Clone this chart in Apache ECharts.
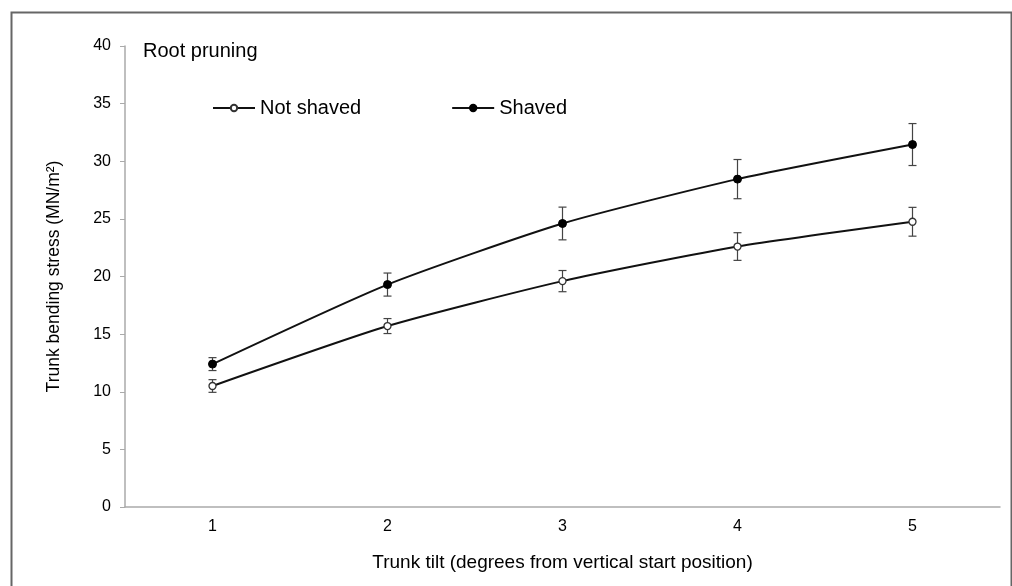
<!DOCTYPE html>
<html>
<head>
<meta charset="utf-8">
<script src="https://cdn.jsdelivr.net/npm/echarts@6/dist/echarts.min.js"></script>
<style>
html,body{margin:0;padding:0;background:#fff;}
#chart{width:1012px;height:586px;}
</style>
</head>
<body>
<div id="chart"></div>
<script>
const categories = ['1', '2', '3', '4', '5'];
const notShavedMean = [10.5, 15.7, 19.6, 22.6, 24.75];
const notShavedErr = [0.55, 0.65, 0.92, 1.2, 1.25];
const shavedMean = [12.4, 19.3, 24.6, 28.45, 31.45];
const shavedErr = [0.56, 1.0, 1.42, 1.7, 1.82];
const yTicks = [0, 5, 10, 15, 20, 25, 30, 35, 40];

const chart = echarts.init(document.getElementById('chart'));
const FONT = 'Liberation Sans, Arial, sans-serif';

function errData(mean, err) {
  return mean.map((m, i) => [i, m - err[i], m + err[i]]);
}
function renderErr(params, api) {
  const x = api.value(0);
  const lo = api.coord([x, api.value(1)]);
  const hi = api.coord([x, api.value(2)]);
  const half = 4;
  const style = { stroke: '#444', lineWidth: 1.2 };
  return {
    type: 'group',
    children: [
      { type: 'line', shape: { x1: lo[0], y1: lo[1], x2: hi[0], y2: hi[1] }, style },
      { type: 'line', shape: { x1: lo[0] - half, y1: lo[1], x2: lo[0] + half, y2: lo[1] }, style },
      { type: 'line', shape: { x1: hi[0] - half, y1: hi[1], x2: hi[0] + half, y2: hi[1] }, style }
    ]
  };
}

const option = {
  backgroundColor: '#fff',
  animation: false,
  textStyle: { fontFamily: FONT },
  graphic: [
    { type: 'rect', left: 9, top: 10, shape: { width: 1000, height: 600 },
      style: { fill: 'none', stroke: '#666', lineWidth: 2 }, silent: true },
    { type: 'text', left: 143, top: 41,
      style: { text: 'Root pruning', fontSize: 20, fill: '#000', fontFamily: FONT } }
  ],
  legend: {
    left: 207, top: 93,
    itemWidth: 42, itemHeight: 8, itemGap: 90,
    textStyle: { fontSize: 20, color: '#000' },
    data: ['Not shaved', 'Shaved']
  },
  grid: { left: 125, right: 12, top: 46, bottom: 79 },
  xAxis: {
    type: 'category',
    data: categories,
    boundaryGap: true,
    name: 'Trunk tilt (degrees from vertical start position)',
    nameLocation: 'middle',
    nameGap: 46,
    nameTextStyle: { fontSize: 19, color: '#000' },
    axisLine: { lineStyle: { color: '#aaa', width: 1.5 } },
    axisTick: { alignWithLabel: true, length: 4, lineStyle: { color: '#bbb' } },
    axisLabel: { fontSize: 16, color: '#000', margin: 12 }
  },
  yAxis: {
    type: 'value',
    min: yTicks[0], max: yTicks[yTicks.length - 1], interval: 5,
    name: 'Trunk bending stress (MN/m²)',
    nameLocation: 'middle',
    nameGap: 62,
    nameTextStyle: { fontSize: 17.5, color: '#000' },
    axisLine: { show: true, lineStyle: { color: '#aaa', width: 1.5 } },
    axisTick: { show: true, length: 5, lineStyle: { color: '#aaa' } },
    axisLabel: { fontSize: 16, color: '#000', margin: 14 },
    splitLine: { show: false }
  },
  series: [
    {
      type: 'custom', name: 'errNS', renderItem: renderErr,
      data: errData(notShavedMean, notShavedErr), z: 1, silent: true,
      encode: { x: 0, y: [1, 2] }
    },
    {
      type: 'custom', name: 'errS', renderItem: renderErr,
      data: errData(shavedMean, shavedErr), z: 1, silent: true,
      encode: { x: 0, y: [1, 2] }
    },
    {
      name: 'Not shaved', type: 'line', data: notShavedMean, z: 3,
      smooth: 0.2,
      symbol: 'circle', symbolSize: 7,
      lineStyle: { color: '#111', width: 2 },
      itemStyle: { color: '#fff', borderColor: '#333', borderWidth: 1.3 }
    },
    {
      name: 'Shaved', type: 'line', data: shavedMean, z: 3,
      smooth: 0.2,
      symbol: 'circle', symbolSize: 8,
      lineStyle: { color: '#111', width: 2 },
      itemStyle: { color: '#000', borderColor: '#000', borderWidth: 1 }
    }
  ]
};
chart.setOption(option);
</script>
</body>
</html>
